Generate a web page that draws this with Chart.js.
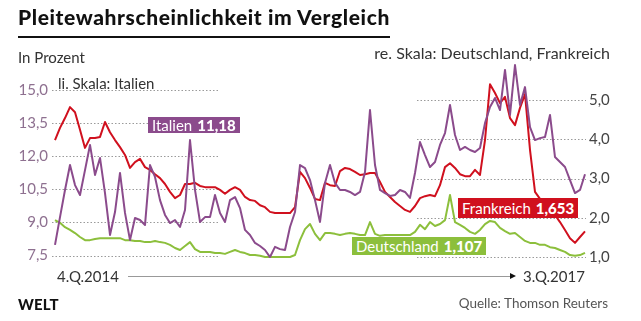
<!DOCTYPE html>
<html>
<head>
<meta charset="utf-8">
<script src="https://cdn.jsdelivr.net/npm/chart.js@4"></script>
<style>
  body { margin: 0; background: #fff; font-family: 'Lato', sans-serif; }
  #wrap { position: relative; width: 641px; height: 321px; overflow: hidden; }
  #chart { position: absolute; left: 0; top: 0; }
  .t { position: absolute; white-space: nowrap; line-height: 20px; }
  .box { position: absolute; color: #fff; font-size: 15px; line-height: 16px; padding: 0 4px; }
  .box b { font-weight: 900; margin-left: 5px; }
</style>
</head>
<body>
<div id="wrap">
  <canvas id="chart" width="641" height="321"></canvas>
  <div class="t" style="left:18px;top:7px;font-size:21px;font-weight:900;color:#111;letter-spacing:0.6px;">Pleitewahrscheinlichkeit im Vergleich</div>
  <div style="position:absolute;left:18px;top:36px;width:372px;height:2px;background:#111;"></div>
  <div class="t" style="left:18px;top:47px;font-size:15px;color:#333;">In Prozent</div>
  <div class="t" style="right:31px;top:43px;font-size:16px;color:#333;">re. Skala: Deutschland, Frankreich</div>
  <div class="t" style="left:58px;top:73px;font-size:15px;color:#333;">li. Skala: Italien</div>
  <div class="box" style="left:148px;top:117px;background:#8b4b8c;">Italien<b>11,18</b></div>
  <div class="box" style="left:458px;top:198px;background:#d0101e;line-height:20px;">Frankreich<b>1,653</b></div>
  <div class="box" style="left:352px;top:237px;background:#8cbf3c;line-height:18px;">Deutschland<b>1,107</b></div>
  <div class="t" style="left:57px;top:266px;font-size:15px;color:#333;">4.Q.2014</div>
  <div style="position:absolute;left:128px;top:276px;width:383px;height:1px;background:#999;"></div>
  <div style="position:absolute;left:510px;top:273px;width:0;height:0;border-top:3.5px solid transparent;border-bottom:3.5px solid transparent;border-left:6px solid #111;"></div>
  <div class="t" style="left:523px;top:266px;font-size:15px;color:#333;">3.Q.2017</div>
  <div class="t" style="left:18px;top:294px;font-size:15px;font-weight:900;color:#111;letter-spacing:0.2px;">WELT</div>
  <div class="t" style="right:33px;top:293px;font-size:13.5px;color:#555;">Quelle: Thomson Reuters</div>
</div>
<script>
// Ausfallwahrscheinlichkeit (CDS-implizit), 4.Q.2014 bis 3.Q.2017
const italien = [
  7.98, 9.24, 10.47, 11.60, 10.69, 10.24, 11.37, 12.51, 11.15, 11.92,
  10.33, 8.43, 9.47, 11.24, 9.43, 8.20, 9.20, 9.11, 8.88, 11.60,
  11.06, 10.01, 9.34, 8.97, 9.11, 8.79, 9.56, 12.73, 10.47, 9.02,
  9.24, 9.24, 10.24, 9.43, 9.02, 10.01, 10.15, 9.65, 8.66, 8.43,
  8.07, 7.93, 7.75, 7.43, 7.89, 7.79, 7.75, 8.79, 9.47, 11.60,
  11.46, 10.92, 10.01, 9.02, 10.79, 11.60, 10.79, 10.47, 10.47, 10.38,
  10.24, 10.38, 11.28, 14.09, 11.60, 10.47, 10.33, 10.20, 10.24, 10.47,
  10.38, 10.11, 11.24, 12.64, 12.05, 11.51, 11.74, 12.51, 13.05, 14.32,
  12.96, 12.28, 12.42, 12.28, 12.19, 12.37, 13.50, 14.23, 14.64, 14.09,
  15.91, 13.87, 16.13, 14.32, 15.13, 13.32, 12.73, 12.82, 12.87, 13.87,
  11.96, 11.74, 11.51, 10.92, 10.33, 10.47, 11.18
];
const frankreich = [
  3.98, 4.29, 4.54, 4.82, 4.69, 4.24, 3.78, 4.03, 4.03, 4.06,
  4.44, 4.18, 3.98, 3.80, 3.60, 3.27, 3.42, 3.50, 3.29, 3.22,
  3.11, 3.01, 2.86, 2.66, 2.50, 2.58, 2.86, 2.86, 2.89, 2.81,
  2.78, 2.78, 2.78, 2.71, 2.61, 2.71, 2.78, 2.71, 2.53, 2.45,
  2.43, 2.32, 2.27, 2.15, 2.12, 2.12, 2.12, 2.12, 2.27, 3.17,
  3.01, 2.76, 2.48, 2.45, 2.89, 2.83, 2.81, 3.19, 3.27, 3.24,
  3.17, 3.09, 3.11, 3.14, 3.14, 2.91, 2.66, 2.53, 2.40, 2.30,
  2.20, 2.15, 2.30, 2.50, 2.55, 2.58, 2.55, 2.83, 3.29, 3.39,
  3.27, 3.11, 3.06, 3.06, 3.22, 3.09, 3.98, 5.40, 5.18, 4.92,
  5.08, 4.54, 4.36, 4.80, 5.15, 3.73, 2.66, 2.48, 2.38, 2.27,
  2.07, 1.89, 1.69, 1.48, 1.36, 1.51, 1.653
];
const deutschland = [
  1.94, 1.87, 1.76, 1.69, 1.61, 1.51, 1.43, 1.43, 1.46, 1.48,
  1.48, 1.48, 1.48, 1.48, 1.43, 1.43, 1.41, 1.41, 1.38, 1.38,
  1.41, 1.38, 1.36, 1.31, 1.23, 1.18, 1.28, 1.38, 1.20, 1.13,
  1.13, 1.13, 1.10, 1.10, 1.08, 1.13, 1.18, 1.13, 1.10, 1.05,
  1.05, 1.03, 1.00, 1.00, 1.00, 1.00, 1.00, 1.00, 1.05, 1.43,
  1.71, 1.84, 1.59, 1.43, 1.61, 1.61, 1.59, 1.56, 1.59, 1.61,
  1.59, 1.56, 1.56, 1.89, 1.59, 1.54, 1.56, 1.56, 1.56, 1.56,
  1.56, 1.56, 1.64, 1.82, 1.71, 1.89, 1.79, 1.84, 1.94, 2.58,
  1.89, 1.82, 1.74, 1.64, 1.59, 1.69, 1.84, 1.92, 1.89, 1.74,
  1.66, 1.59, 1.61, 1.51, 1.41, 1.36, 1.36, 1.31, 1.31, 1.25,
  1.23, 1.18, 1.13, 1.05, 1.03, 1.05, 1.107
];
const ticksLinks = [7.5, 9.0, 10.5, 12.0, 13.5, 15.0];
const ticksRechts = [1.0, 2.0, 3.0, 4.0, 5.0];

// Datumsachse: Oktober 2014 bis September 2017
const labels = [];
const startMs = Date.UTC(2014, 9, 1);
const stepMs = (Date.UTC(2017, 8, 30) - startMs) / (italien.length - 1);
for (let i = 0; i < italien.length; i++) {
  labels.push(new Date(startMs + i * stepMs).toISOString().slice(0, 10));
}

const fmt = v => v.toFixed(1).replace('.', ',');

const gridPlugin = {
  id: 'grid',
  beforeDatasetsDraw(chart) {
    const ctx = chart.ctx;
    const yL = chart.scales.yL, yR = chart.scales.yR;
    ctx.save();
    ctx.strokeStyle = '#9a9a9a';
    ctx.lineWidth = 1;
    ctx.setLineDash([1.5, 2]);
    ticksLinks.forEach(v => {
      const y = Math.round(yL.getPixelForValue(v)) + 0.5;
      ctx.beginPath(); ctx.moveTo(52, y); ctx.lineTo(218, y); ctx.stroke();
    });
    ticksRechts.forEach(v => {
      const y = Math.round(yR.getPixelForValue(v)) + 0.5;
      ctx.beginPath(); ctx.moveTo(417, y); ctx.lineTo(586, y); ctx.stroke();
    });
    ctx.setLineDash([]);
    ctx.font = '15px Lato';
    ctx.textBaseline = 'middle';
    ctx.textAlign = 'right';
    ctx.fillStyle = '#8e7090';
    ticksLinks.forEach(v => ctx.fillText(fmt(v), 48, yL.getPixelForValue(v)));
    ctx.textAlign = 'left';
    ctx.fillStyle = '#444';
    ticksRechts.forEach(v => ctx.fillText(fmt(v), 589, yR.getPixelForValue(v)));
    ctx.restore();
  }
};

const ctx = document.getElementById('chart').getContext('2d');
const chart = new Chart(ctx, {
  type: 'line',
  data: {
    labels: labels,
    datasets: [
      { label: 'Italien', data: italien, yAxisID: 'yL', borderColor: '#8b4b8c', borderWidth: 2 },
      { label: 'Frankreich', data: frankreich, yAxisID: 'yR', borderColor: '#d0101e', borderWidth: 2 },
      { label: 'Deutschland', data: deutschland, yAxisID: 'yR', borderColor: '#8cbf3c', borderWidth: 2 }
    ]
  },
  options: {
    responsive: false,
    animation: false,
    layout: { padding: { left: 55, right: 56, top: 63, bottom: 59 } },
    elements: { point: { radius: 0 }, line: { tension: 0, borderJoinStyle: 'round' } },
    plugins: { legend: { display: false }, tooltip: { enabled: false } },
    scales: {
      x: { display: false },
      yL: { display: false, position: 'left', min: 7.206, max: 16.223 },
      yR: { display: false, position: 'right', min: 0.873, max: 5.943 }
    }
  },
  plugins: [gridPlugin]
});
</script>
</body>
</html>
